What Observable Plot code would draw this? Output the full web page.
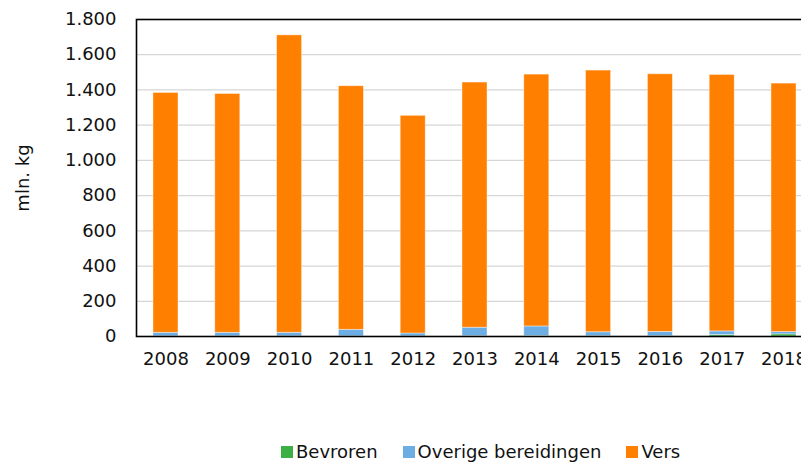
<!DOCTYPE html>
<html>
<head>
<meta charset="utf-8">
<script src="https://cdn.jsdelivr.net/npm/d3@7"></script>
<script src="https://cdn.jsdelivr.net/npm/@observablehq/plot@0.6"></script>
<style>
  html, body { margin: 0; padding: 0; background: #fff; overflow: hidden; }
  #wrap { position: relative; width: 801px; height: 462px; overflow: hidden; font-family: "DejaVu Sans", Verdana, sans-serif; }
  #chart { position: absolute; left: 0; top: 0; width: 830px; }
  #chart svg { max-width: none !important; }
  #legend { position: absolute; left: 281px; top: 441px; display: flex; gap: 25px; font-size: 18px; color: #111; line-height: 21px; white-space: nowrap; }
  #legend .item { display: flex; align-items: center; }
  #legend .sw { width: 12px; height: 12px; margin-right: 3px; }
</style>
</head>
<body>
<div id="wrap">
  <div id="chart"></div>
  <div id="legend"></div>
</div>
<script>
const years = ["2008","2009","2010","2011","2012","2013","2014","2015","2016","2017","2018"];
const seriesNames = ["Bevroren", "Overige bereidingen", "Vers"];
const seriesColors = ["#3cb044", "#6cade4", "#ff7f00"];
const bevroren = [1, 1, 1, 1, 1, 2, 3, 2, 2, 8, 12];
const overige = [20, 20, 20, 37, 16, 48, 54, 22, 24, 21, 13];
const vers = [1362, 1356, 1689, 1383, 1236, 1392, 1430, 1486, 1463, 1456, 1411];
const yTicks = [0, 200, 400, 600, 800, 1000, 1200, 1400, 1600, 1800];

const seriesValues = [bevroren, overige, vers];
const data = [];
seriesNames.forEach((s, si) => {
  years.forEach((y, i) => data.push({ year: y, series: s, value: seriesValues[si][i] }));
});

const fmt = d => d3.format(",")(d).replace(/,/g, ".");

const chart = Plot.plot({
  width: 830,
  height: 380,
  marginLeft: 136,
  marginRight: 17,
  marginTop: 19,
  marginBottom: 44,
  style: { fontFamily: "DejaVu Sans, Verdana, sans-serif", fontSize: "18px", color: "#111", background: "transparent", maxWidth: "none" },
  x: { type: "band", domain: years, paddingInner: 0.5955, paddingOuter: 0.275, round: false, label: null },
  y: { domain: [0, 1800], ticks: yTicks, label: null },
  color: { domain: seriesNames, range: seriesColors },
  marks: [
    Plot.gridY(yTicks.filter(t => t > 0 && t < 1800), { stroke: "#d6d6d6", strokeOpacity: 1, strokeWidth: 1.3 }),
    Plot.barY(data, Plot.stackY({
      x: "year", y: "value", z: "series", fill: "series", order: seriesNames,
      stroke: "#fff", strokeWidth: 0.8, strokeOpacity: 0.5
    })),
    Plot.frame({ stroke: "#000", strokeWidth: 1.6 }),
    Plot.axisY(yTicks, { tickSize: 0, tickPadding: 20, tickFormat: fmt, fontSize: 18,
      label: "mln. kg", labelAnchor: "center", labelArrow: "none", labelOffset: 120 }),
    Plot.axisX({ tickSize: 0, tickPadding: 16, fontSize: 18, label: null })
  ]
});
document.getElementById("chart").appendChild(chart);

const legend = document.getElementById("legend");
seriesNames.forEach((s, i) => {
  const item = document.createElement("div");
  item.className = "item";
  const sw = document.createElement("span");
  sw.className = "sw";
  sw.style.background = seriesColors[i];
  const tx = document.createElement("span");
  tx.textContent = s;
  item.appendChild(sw);
  item.appendChild(tx);
  legend.appendChild(item);
});
</script>
</body>
</html>
